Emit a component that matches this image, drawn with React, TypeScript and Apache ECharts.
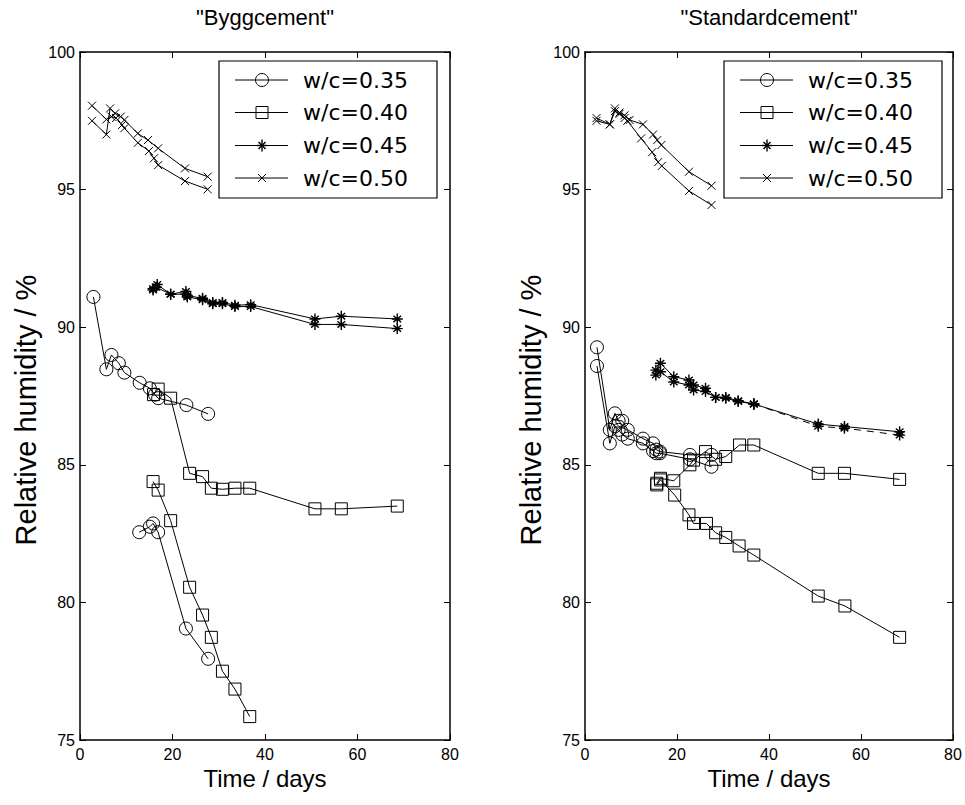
import React, { useEffect, useRef } from "react";
import * as echarts from "echarts";

const panelTitles = ['"Byggcement"', '"Standardcement"'];
const seriesNames = ["w/c=0.35", "w/c=0.40", "w/c=0.45", "w/c=0.50"];
const xAxisName = "Time / days";
const yAxisName = "Relative humidity / %";
const xTickValues = [0, 20, 40, 60, 80];
const yTickValues = [75, 80, 85, 90, 95, 100];

// "Byggcement" — [time (days), relative humidity (%)], two specimens per w/c
const bygg035A = [[2.9, 91.1], [5.7, 88.47], [6.8, 88.99], [8.4, 88.69], [9.6, 88.35], [12.9, 87.98], [15.1, 87.78], [16.2, 87.55], [16.9, 87.42], [23.0, 87.17], [27.7, 86.85]];
const bygg035B = [[12.8, 82.55], [15.1, 82.75], [15.8, 82.87], [16.9, 82.55], [22.9, 79.05], [27.7, 77.95]];
const bygg040A = [[15.9, 87.55], [16.9, 87.75], [19.6, 87.42], [23.7, 84.69], [26.5, 84.57], [28.4, 84.15], [30.8, 84.11], [33.5, 84.15], [36.7, 84.15], [50.8, 83.4], [56.5, 83.4], [68.6, 83.5]];
const bygg040B = [[15.8, 84.39], [16.9, 84.08], [19.6, 82.97], [23.7, 80.55], [26.5, 79.54], [28.4, 78.73], [30.8, 77.5], [33.5, 76.85], [36.7, 75.85]];
const bygg045A = [[15.8, 91.4], [16.7, 91.55], [19.6, 91.2], [22.9, 91.3], [23.2, 91.15], [26.5, 91.05], [28.7, 90.9], [30.8, 90.9], [33.5, 90.8], [36.9, 90.82], [50.8, 90.3], [56.5, 90.4], [68.6, 90.3]];
const bygg045B = [[15.8, 91.35], [16.5, 91.45], [19.6, 91.2], [22.9, 91.2], [23.2, 91.1], [26.5, 91.0], [28.7, 90.85], [30.8, 90.85], [33.5, 90.75], [36.9, 90.75], [50.8, 90.1], [56.5, 90.1], [68.6, 89.95]];
const bygg050A = [[2.6, 97.5], [5.7, 97.0], [6.5, 97.95], [7.6, 97.77], [8.8, 97.65], [9.6, 97.53], [12.5, 97.04], [14.7, 96.8], [16.9, 96.5], [22.7, 95.77], [27.6, 95.47]];
const bygg050B = [[2.6, 98.05], [5.7, 97.55], [6.8, 97.65], [7.8, 97.6], [9.1, 97.35], [9.6, 97.23], [12.5, 96.7], [14.9, 96.4], [16.0, 96.14], [16.9, 95.89], [22.7, 95.31], [27.6, 95.01]];

// "Standardcement"
const std035A = [[2.6, 89.27], [5.4, 86.27], [6.5, 86.87], [7.3, 86.6], [8.1, 86.6], [9.3, 86.27], [12.6, 85.95], [14.8, 85.78], [15.5, 85.55], [16.3, 85.48], [22.8, 85.36], [27.5, 85.36]];
const std035B = [[2.6, 88.59], [5.4, 85.78], [6.5, 86.4], [7.3, 86.27], [8.1, 86.1], [9.3, 85.95], [12.6, 85.78], [14.8, 85.5], [15.5, 85.42], [16.3, 85.42], [22.8, 85.2], [27.5, 84.93]];
const std040A = [[15.6, 84.33], [16.4, 84.51], [19.3, 84.42], [22.8, 85.0], [23.6, 85.17], [26.2, 85.48], [28.4, 85.2], [30.6, 85.3], [33.6, 85.72], [36.7, 85.72], [50.7, 84.69], [56.4, 84.69], [68.4, 84.47]];
const std040B = [[15.6, 84.27], [16.4, 84.45], [19.5, 83.9], [22.6, 83.18], [23.6, 82.87], [26.4, 82.87], [28.4, 82.53], [30.6, 82.36], [33.5, 82.05], [36.7, 81.72], [50.7, 80.23], [56.5, 79.87], [68.4, 78.73]];
const std045A = [[15.4, 88.44], [16.4, 88.69], [19.3, 88.2], [22.6, 88.08], [23.6, 87.9], [26.2, 87.78], [28.4, 87.45], [30.6, 87.45], [33.3, 87.33], [36.7, 87.21], [50.7, 86.48], [56.4, 86.39], [68.4, 86.2]];
const std045B = [[15.4, 88.26], [16.4, 88.38], [19.3, 88.01], [22.6, 87.9], [23.6, 87.72], [26.2, 87.66], [28.4, 87.45], [30.6, 87.42], [33.3, 87.3], [36.7, 87.21], [50.7, 86.4], [56.4, 86.33], [68.4, 86.08]];
const std045BSolidCount = 10; // later readings joined with a dashed line
const std050A = [[2.5, 97.6], [5.4, 97.37], [6.5, 97.95], [7.5, 97.8], [8.6, 97.7], [9.7, 97.53], [12.6, 97.37], [14.8, 97.0], [15.7, 96.8], [16.6, 96.62], [22.6, 95.65], [27.5, 95.14]];
const std050B = [[2.5, 97.5], [5.4, 97.37], [6.5, 97.85], [7.5, 97.75], [8.6, 97.6], [9.2, 97.5], [12.2, 96.86], [14.6, 96.36], [15.9, 96.0], [16.7, 95.86], [22.6, 94.95], [27.5, 94.44]];

const CROSS = "path://M0,0L10,10M10,0L0,10";
const STAR = "path://M5,-1L5,11M0,5L10,5M1.5,1.5L8.5,8.5M8.5,1.5L1.5,8.5";
const markerDefs = [
  { symbol: "circle", size: 13, bw: 1 },
  { symbol: "rect", size: 12, bw: 1 },
  { symbol: STAR, size: 11, bw: 1.4 },
  { symbol: CROSS, size: 8, bw: 1 },
];

const FONT_TICK = "Liberation Sans";
const FONT_TEXT = "Liberation Sans";
const FONT_LEGEND = "DejaVu Sans";

const panels = [
  { left: 80, width: 370 },
  { left: 585, width: 368 },
];
const TOP = 52;
const HEIGHT = 688;

function lineSeries(name: string, data: number[][], k: number, panel: number, dashed = false) {
  const m = markerDefs[k];
  return {
    type: "line",
    name,
    data,
    xAxisIndex: panel * 2,
    yAxisIndex: panel * 2,
    symbol: m.symbol,
    symbolSize: m.size,
    showSymbol: true,
    showAllSymbol: true,
    lineStyle: { color: "#000", width: 1, type: dashed ? [7, 6] : "solid" },
    itemStyle: { color: "rgba(0,0,0,0)", borderColor: "#000", borderWidth: m.bw },
    emphasis: { disabled: true },
    z: 3,
  };
}

function legendGraphics(dx: number) {
  const els: any[] = [];
  els.push({
    type: "rect",
    shape: { x: 219 + dx, y: 61, width: 218, height: 137 },
    style: { fill: "#fff", stroke: "#000", lineWidth: 1.2 },
    z: 10,
  });
  const rows = [80, 112.5, 145.5, 178];
  seriesNames.forEach((nm, i) => {
    const cy = rows[i];
    const cx = 262 + dx;
    els.push({ type: "line", shape: { x1: 235 + dx, y1: cy, x2: 288 + dx, y2: cy }, style: { stroke: "#000", lineWidth: 1 }, z: 11 });
    if (i === 0) {
      els.push({ type: "circle", shape: { cx, cy, r: 6.5 }, style: { fill: "none", stroke: "#000", lineWidth: 1 }, z: 12 });
    } else if (i === 1) {
      els.push({ type: "rect", shape: { x: cx - 6, y: cy - 6, width: 12, height: 12 }, style: { fill: "none", stroke: "#000", lineWidth: 1 }, z: 12 });
    } else if (i === 2) {
      const r = 5;
      [[0, -r - 1, 0, r + 1], [-r, 0, r, 0], [-3.5, -3.5, 3.5, 3.5], [3.5, -3.5, -3.5, 3.5]].forEach((s) =>
        els.push({ type: "line", shape: { x1: cx + s[0], y1: cy + s[1], x2: cx + s[2], y2: cy + s[3] }, style: { stroke: "#000", lineWidth: 1.4 }, z: 12 })
      );
    } else {
      [[-4, -4, 4, 4], [4, -4, -4, 4]].forEach((s) =>
        els.push({ type: "line", shape: { x1: cx + s[0], y1: cy + s[1], x2: cx + s[2], y2: cy + s[3] }, style: { stroke: "#000", lineWidth: 1 }, z: 12 })
      );
    }
    els.push({
      type: "text",
      x: 303 + dx,
      y: cy,
      style: { text: nm, fill: "#000", font: `22px "${FONT_LEGEND}"`, verticalAlign: "middle", align: "left" },
      z: 12,
    });
  });
  return els;
}

export default function App() {
  const ref = useRef<HTMLDivElement>(null);
  useEffect(() => {
    if (!ref.current) return;
    const chart = echarts.init(ref.current, undefined, { renderer: "svg" });

    const grid = panels.map((p) => ({ left: p.left, top: TOP, width: p.width, height: HEIGHT, show: false }));

    const axisLine = { show: true, onZero: false, lineStyle: { color: "#000", width: 1.5 } };
    const tick = { show: true, inside: true, length: 6, lineStyle: { color: "#000", width: 1 } };

    const xAxis: any[] = [];
    const yAxis: any[] = [];
    panels.forEach((_, pi) => {
      const base = {
        type: "value",
        gridIndex: pi,
        min: xTickValues[0],
        max: xTickValues[xTickValues.length - 1],
        interval: xTickValues[1] - xTickValues[0],
        axisLine,
        axisTick: tick,
        splitLine: { show: false },
      };
      xAxis.push({
        ...base,
        position: "bottom",
        name: xAxisName,
        nameLocation: "middle",
        nameGap: 26,
        nameTextStyle: { color: "#000", fontSize: 24, fontFamily: FONT_TEXT },
        axisLabel: { color: "#000", fontSize: 16, fontFamily: FONT_TICK, margin: 6 },
      });
      xAxis.push({ ...base, position: "top", axisLabel: { show: false } });
      const ybase = {
        type: "value",
        gridIndex: pi,
        min: yTickValues[0],
        max: yTickValues[yTickValues.length - 1],
        interval: yTickValues[1] - yTickValues[0],
        axisLine,
        axisTick: tick,
        splitLine: { show: false },
      };
      yAxis.push({
        ...ybase,
        position: "left",
        name: yAxisName,
        nameLocation: "middle",
        nameRotate: 90,
        nameGap: 40,
        nameTextStyle: { color: "#000", fontSize: 29, fontFamily: FONT_TEXT, padding: [0, 28, 0, 0] },
        axisLabel: { color: "#000", fontSize: 16, fontFamily: FONT_TICK, margin: 5 },
      });
      yAxis.push({ ...ybase, position: "right", axisLabel: { show: false } });
    });

    const series: any[] = [
      lineSeries(seriesNames[0], bygg035A, 0, 0),
      lineSeries(seriesNames[0], bygg035B, 0, 0),
      lineSeries(seriesNames[1], bygg040A, 1, 0),
      lineSeries(seriesNames[1], bygg040B, 1, 0),
      lineSeries(seriesNames[2], bygg045A, 2, 0),
      lineSeries(seriesNames[2], bygg045B, 2, 0),
      lineSeries(seriesNames[3], bygg050A, 3, 0),
      lineSeries(seriesNames[3], bygg050B, 3, 0),
      lineSeries(seriesNames[0], std035A, 0, 1),
      lineSeries(seriesNames[0], std035B, 0, 1),
      lineSeries(seriesNames[1], std040A, 1, 1),
      lineSeries(seriesNames[1], std040B, 1, 1),
      lineSeries(seriesNames[2], std045A, 2, 1),
      lineSeries(seriesNames[2], std045B.slice(0, std045BSolidCount), 2, 1),
      lineSeries(seriesNames[2], std045B.slice(std045BSolidCount - 1), 2, 1, true),
      lineSeries(seriesNames[3], std050A, 3, 1),
      lineSeries(seriesNames[3], std050B, 3, 1),
    ];

    const graphic: any[] = [];
    panels.forEach((p, pi) => {
      graphic.push({
        type: "text",
        x: p.left + p.width / 2,
        y: 17,
        style: { text: panelTitles[pi], fill: "#000", font: `22px "${FONT_TEXT}"`, align: "center", verticalAlign: "middle" },
      });
      graphic.push(...legendGraphics(pi === 0 ? 0 : 505));
    });

    chart.setOption({
      animation: false,
      backgroundColor: "#fff",
      grid,
      xAxis,
      yAxis,
      series,
      graphic,
    });
    return () => chart.dispose();
  }, []);

  return (
    <div
      ref={ref}
      style={{ position: "fixed", left: 0, top: 0, width: 965, height: 805, background: "#fff" }}
    />
  );
}
